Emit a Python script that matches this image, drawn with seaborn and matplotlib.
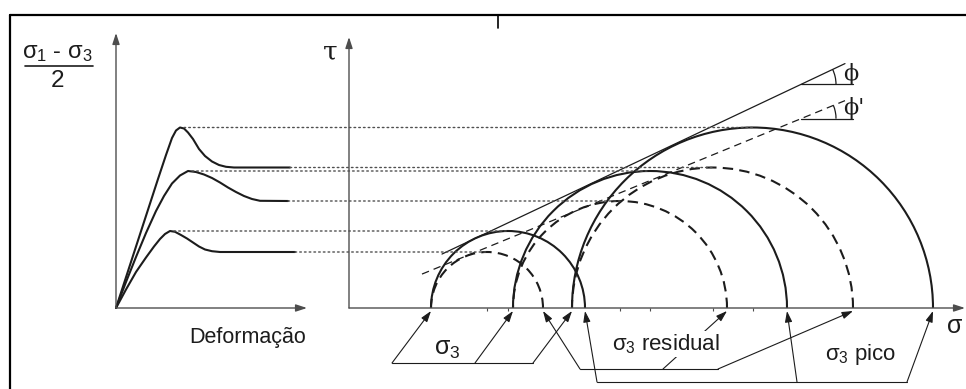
import numpy as np
import pandas as pd
import matplotlib
matplotlib.use("Agg")
import matplotlib.pyplot as plt
from matplotlib.patches import Arc, ConnectionPatch
from matplotlib.lines import Line2D
import seaborn as sns

# --- triaxial tests on three specimens (increasing confining stress) ---
sigma3 = [8.2, 16.4, 22.3]              # confining stress σ3
peak_half_dev = [7.7, 13.7, 18.05]      # (σ1-σ3)/2 at peak
resid_half_dev = [5.6, 10.7, 14.05]     # (σ1-σ3)/2 residual

# stress–strain curves, lowest confinement first
strain_a = [0, 1.0, 2.0, 3.0, 3.8, 4.4, 4.9, 5.4, 5.9, 6.5, 7.1, 7.7, 8.3, 8.9, 9.6, 10.4, 17.9]
stress_a = [0, 1.85, 3.6, 5.05, 6.15, 6.9, 7.4, 7.7, 7.62, 7.3, 6.95, 6.55, 6.15, 5.85, 5.68, 5.6, 5.6]
strain_b = [0, 1.0, 2.0, 3.0, 4.0, 4.8, 5.6, 6.4, 7.2, 8.0, 8.8, 9.6, 10.4, 11.2, 12.0, 12.8, 13.6, 14.4, 17.2]
stress_b = [0, 2.6, 5.1, 7.5, 9.7, 11.2, 12.45, 13.25, 13.7, 13.6, 13.35, 13.0, 12.55, 12.05, 11.6, 11.2, 10.9, 10.72, 10.7]
strain_c = [0, 1.4, 2.8, 4.2, 5.0, 5.6, 6.0, 6.4, 6.8, 7.2, 7.7, 8.3, 8.9, 9.6, 10.3, 11.0, 11.8, 17.4]
stress_c = [0, 4.3, 8.6, 12.9, 15.3, 17.0, 17.75, 18.05, 17.95, 17.55, 16.9, 15.9, 15.2, 14.65, 14.3, 14.12, 14.05, 14.05]

# Mohr–Coulomb envelopes  τ = c + σ·tanφ
env_peak_c, env_peak_tan = 1.0, 0.4726
env_res_c, env_res_tan = 0.4, 0.41
env_peak_span = [9.3, 49.6]
env_res_span = [7.3, 49.6]

sns.set_style("white")
plt.rcParams["font.family"] = ["Liberation Sans", "DejaVu Sans"]
plt.rcParams["mathtext.fontset"] = "custom"
plt.rcParams["mathtext.rm"] = "Liberation Sans"
plt.rcParams["mathtext.it"] = "Liberation Sans"
plt.rcParams["mathtext.bf"] = "Liberation Sans:bold"

INK = "#1c1c1c"
AXIS = "#4d4d4d"
DOT = "#505050"
SERIF = ["DejaVu Serif", "Liberation Serif"]

W, H = 966, 389
SPLIT = 330
fig = plt.figure(figsize=(W / 100, H / 100), dpi=100)
fig.patch.set_facecolor("white")
ax_m = fig.add_axes([SPLIT / W, 0, 1 - SPLIT / W, 1])
ax_c = fig.add_axes([0, 0, SPLIT / W, 1])

# ---------------- stress–strain panel ----------------
curves = pd.concat([
    pd.DataFrame({"deformacao": s, "tensao": t, "ensaio": k})
    for k, (s, t) in enumerate([(strain_a, stress_a), (strain_b, stress_b), (strain_c, stress_c)])
])
sns.lineplot(data=curves, x="deformacao", y="tensao", units="ensaio", estimator=None,
             sort=False, color=INK, lw=1.5, ax=ax_c, legend=False)

arrow_kw = dict(arrowstyle="-|>,head_length=0.55,head_width=0.18", mutation_scale=12,
                color=AXIS, lw=1.0, shrinkA=0, shrinkB=0)
ax_c.annotate("", xy=(0, 27.5), xytext=(0, 0), arrowprops=arrow_kw)
ax_c.annotate("", xy=(19.1, 0), xytext=(0, 0), arrowprops=arrow_kw)

ax_c.text(-5.9, 25.0, r"$\sigma_1$ - $\sigma_3$", ha="center", va="baseline", fontsize=17, color=INK)
ax_c.plot([-9.1, -2.3], [24.2, 24.2], color=INK, lw=1.2)
ax_c.text(-5.8, 22.1, "2", ha="center", va="baseline", fontsize=17.5, color=INK)
ax_c.text(13.2, -3.5, "Deformação", ha="center", va="baseline", fontsize=15.5, color=INK)

# ---------------- Mohr diagram ----------------
ax_m.annotate("", xy=(0, 27.1), xytext=(0, 0), arrowprops=arrow_kw)
ax_m.annotate("", xy=(61.6, 0), xytext=(0, 0), arrowprops=arrow_kw)
ax_m.text(-1.9, 24.8, "τ", ha="center", va="baseline", fontsize=19, color=INK, family=SERIF)
ax_m.text(60.6, -2.5, "σ", ha="center", va="baseline", fontsize=18, color=INK)

centres = []
for s3, rp, rr in zip(sigma3, peak_half_dev, resid_half_dev):
    ax_m.add_patch(Arc((s3 + rp, 0), 2 * rp, 2 * rp, theta1=0, theta2=180,
                       edgecolor=INK, lw=1.5))
    ax_m.add_patch(Arc((s3 + rr, 0), 2 * rr, 2 * rr, theta1=0, theta2=180,
                       edgecolor=INK, lw=1.5, linestyle=(0, (5, 3))))
    centres += [s3 + rp, s3 + rr]
ax_m.vlines(centres, -0.3, 0, color=AXIS, lw=0.8)

# failure envelopes
sp = np.array(env_peak_span)
ax_m.plot(sp, env_peak_c + env_peak_tan * sp, color=INK, lw=0.9)
sr = np.array(env_res_span)
ax_m.plot(sr, env_res_c + env_res_tan * sr, color=INK, lw=0.9, linestyle=(0, (6, 4)))

# friction-angle markers
for c0, tn, lab in [(env_peak_c, env_peak_tan, "ϕ"), (env_res_c, env_res_tan, "ϕ'")]:
    sv = 45.2
    tv = c0 + tn * sv
    ax_m.plot([sv, 50.4], [tv, tv], color=INK, lw=0.9)
    ang = np.degrees(np.arctan(tn))
    ax_m.add_patch(Arc((sv, tv), 7.0, 7.0, theta1=0, theta2=ang, edgecolor=INK, lw=0.9))
    ax_m.text(49.45, tv + 1.05, lab, ha="left", va="center", fontsize=16, color=INK,
              family=SERIF)

# dotted projections from the stress–strain curves onto the circle tops
def link(xa, ya, xb, yb):
    fig.add_artist(ConnectionPatch(xyA=(xa, ya), coordsA=ax_c.transData,
                                   xyB=(xb, yb), coordsB=ax_m.transData,
                                   linestyle=(0, (1.2, 2.2)), lw=1.0, color=DOT))

for (s, t), s3, rp, rr in zip([(strain_a, stress_a), (strain_b, stress_b), (strain_c, stress_c)],
                              sigma3, peak_half_dev, resid_half_dev):
    k = int(np.argmax(t))
    link(s[k] + 0.4, t[k], s3 + rp, rp)
    link(s[-1], t[-1], s3 + rr, rr)

# labelled brackets below the σ axis
pt_kw = dict(arrowstyle="-|>,head_length=0.55,head_width=0.18", mutation_scale=12,
             color=INK, lw=0.8, shrinkA=0, shrinkB=0)

def bracket(y, x0, x1, tails, tips):
    ax_m.plot([x0, x1], [y, y], color=INK, lw=0.8)
    for xt, xh in zip(tails, tips):
        ax_m.annotate("", xy=(xh, -0.3), xytext=(xt, y), arrowprops=pt_kw)

sigma1_peak = [a + 2 * b for a, b in zip(sigma3, peak_half_dev)]
sigma1_res = [a + 2 * b for a, b in zip(sigma3, resid_half_dev)]

bracket(-5.5, 4.3, 18.4, [4.3, 12.6, 18.4], sigma3)
bracket(-6.1, 23.1, 36.9, [23.1, 31.4, 36.9], sigma1_res)
bracket(-7.4, 24.8, 55.8, [24.8, 44.8, 55.8], sigma1_peak)

ax_m.text(9.8, -4.7, r"$\sigma_3$", ha="center", va="baseline", fontsize=18, color=INK, zorder=5)
ax_m.text(26.3, -4.2, r"$\sigma_3$ residual", ha="left", va="baseline", fontsize=16,
          color=INK, zorder=5, bbox=dict(facecolor="white", edgecolor="none", pad=1))
ax_m.text(47.6, -5.2, r"$\sigma_3$ pico", ha="left", va="baseline", fontsize=16,
          color=INK, zorder=5)

for ax in (ax_m, ax_c):
    ax.set_axis_off()
    ax.set_ylim(-8.1, -8.1 + H / 10)
ax_m.set_xlim(-1.9, -1.9 + (W - SPLIT) / 10)
ax_c.set_xlim(-11.6, -11.6 + SPLIT / 10)

# outer frame
fy = 1 - 15 / H
fig.add_artist(Line2D([10 / W, 1], [fy, fy], transform=fig.transFigure, color="black", lw=1.6))
fig.add_artist(Line2D([10 / W, 10 / W], [0, fy], transform=fig.transFigure, color="black", lw=1.6))
fig.add_artist(Line2D([498 / W, 498 / W], [fy, 1 - 28 / H], transform=fig.transFigure, color="black", lw=1.2))

fig.savefig("out.png", dpi=100, facecolor="white")
